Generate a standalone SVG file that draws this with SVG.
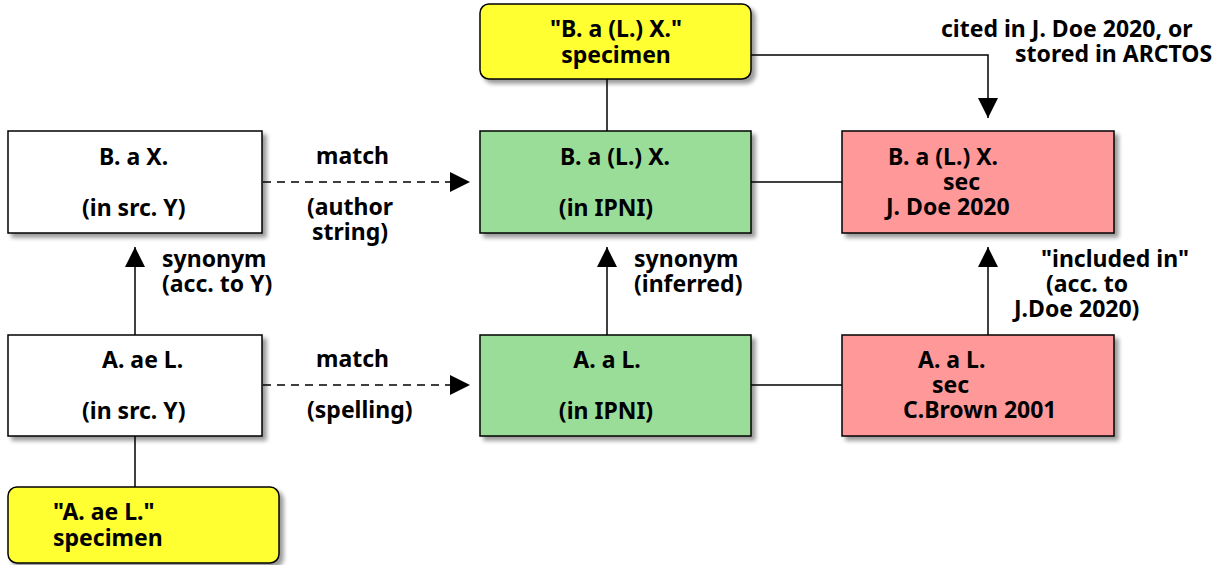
<svg xmlns="http://www.w3.org/2000/svg" width="1230" height="565" viewBox="0 0 1230 565">
<style>
text{font-family:"Noto Sans","Open Sans",sans-serif;font-weight:bold;font-size:23px;fill:#000}
.c{text-anchor:middle}
.box{stroke:#000;stroke-width:1.5}
.white{fill:#fff}
.green{fill:#99dd99}
.pink{fill:#ff9999}
.yellow{fill:#ffff33}
.ln{stroke:#000;stroke-width:1.5;fill:none}
.dash{stroke-dasharray:8,6}
</style>
<defs>
<filter id="sh" x="-10%" y="-10%" width="130%" height="140%">
<feGaussianBlur in="SourceAlpha" stdDeviation="2"/>
<feOffset dx="4" dy="4" result="b"/>
<feComponentTransfer><feFuncA type="linear" slope="0.4"/></feComponentTransfer>
<feMerge><feMergeNode/><feMergeNode in="SourceGraphic"/></feMerge>
</filter>
<marker id="ah" markerUnits="userSpaceOnUse" markerWidth="20" markerHeight="20" refX="20" refY="10" orient="auto">
<path d="M0,0 L20,10 L0,20 z" fill="#000"/>
</marker>
</defs>

<g id="connectors">
<line class="ln dash" x1="263" y1="182" x2="470" y2="182" marker-end="url(#ah)"/>
<line class="ln dash" x1="263" y1="385" x2="470" y2="385" marker-end="url(#ah)"/>
<line class="ln" x1="135" y1="335" x2="135" y2="247" marker-end="url(#ah)"/>
<line class="ln" x1="135" y1="436" x2="135" y2="487"/>
<line class="ln" x1="607" y1="79" x2="607" y2="131"/>
<line class="ln" x1="607" y1="335" x2="607" y2="247" marker-end="url(#ah)"/>
<line class="ln" x1="751" y1="182" x2="842" y2="182"/>
<line class="ln" x1="751" y1="385" x2="842" y2="385"/>
<line class="ln" x1="988" y1="335" x2="988" y2="247" marker-end="url(#ah)"/>
<polyline class="ln" points="751,55 988,55 988,118" marker-end="url(#ah)"/>
<text x="316" y="164">match</text>
<text x="307" y="215">(author</text>
<text x="312" y="240">string)</text>
<text x="316" y="367">match</text>
<text x="307" y="418">(spelling)</text>
<text x="162" y="267">synonym</text>
<text x="162" y="292">(acc. to Y)</text>
<text x="634" y="267">synonym</text>
<text x="634" y="292">(inferred)</text>
<text x="1041" y="267">"included in"</text>
<text x="1046" y="292">(acc. to</text>
<text x="1014" y="317">J.Doe 2020)</text>
<text x="941" y="37">cited in J. Doe 2020, or</text>
<text x="1015" y="62">stored in ARCTOS</text>
</g>

<g id="n_BaX">
<rect class="box white" x="8" y="131" width="254" height="102" filter="url(#sh)"/>
<text x="99" y="165">B. a X.</text>
<text x="82" y="216">(in src. Y)</text>
</g>
<g id="n_AaeL">
<rect class="box white" x="8" y="335" width="254" height="101" filter="url(#sh)"/>
<text x="102" y="368">A. ae L.</text>
<text x="82" y="419">(in src. Y)</text>
</g>
<g id="n_spec_AaeL">
<rect class="box yellow" x="8" y="487" width="271" height="76" rx="9" filter="url(#sh)"/>
<text x="53" y="520">"A. ae L."</text>
<text x="53" y="546">specimen</text>
</g>
<g id="n_spec_BaLX">
<rect class="box yellow" x="480" y="4" width="271" height="75" rx="9" filter="url(#sh)"/>
<text class="c" x="616" y="37">"B. a (L.) X."</text>
<text class="c" x="616" y="63">specimen</text>
</g>
<g id="n_BaLX_ipni">
<rect class="box green" x="480" y="131" width="271" height="102" filter="url(#sh)"/>
<text class="c" x="615" y="165">B. a (L.) X.</text>
<text class="c" x="606" y="216">(in IPNI)</text>
</g>
<g id="n_AaL_ipni">
<rect class="box green" x="480" y="335" width="271" height="101" filter="url(#sh)"/>
<text class="c" x="607" y="368">A. a L.</text>
<text class="c" x="606" y="419">(in IPNI)</text>
</g>
<g id="n_BaLX_sec">
<rect class="box pink" x="842" y="131" width="272" height="102" filter="url(#sh)"/>
<text x="888" y="165">B. a (L.) X.</text>
<text x="943" y="190">sec</text>
<text x="886" y="215">J. Doe 2020</text>
</g>
<g id="n_AaL_sec">
<rect class="box pink" x="842" y="335" width="272" height="101" filter="url(#sh)"/>
<text x="918" y="368">A. a L.</text>
<text x="932" y="393">sec</text>
<text x="903" y="418">C.Brown 2001</text>
</g>
</svg>
